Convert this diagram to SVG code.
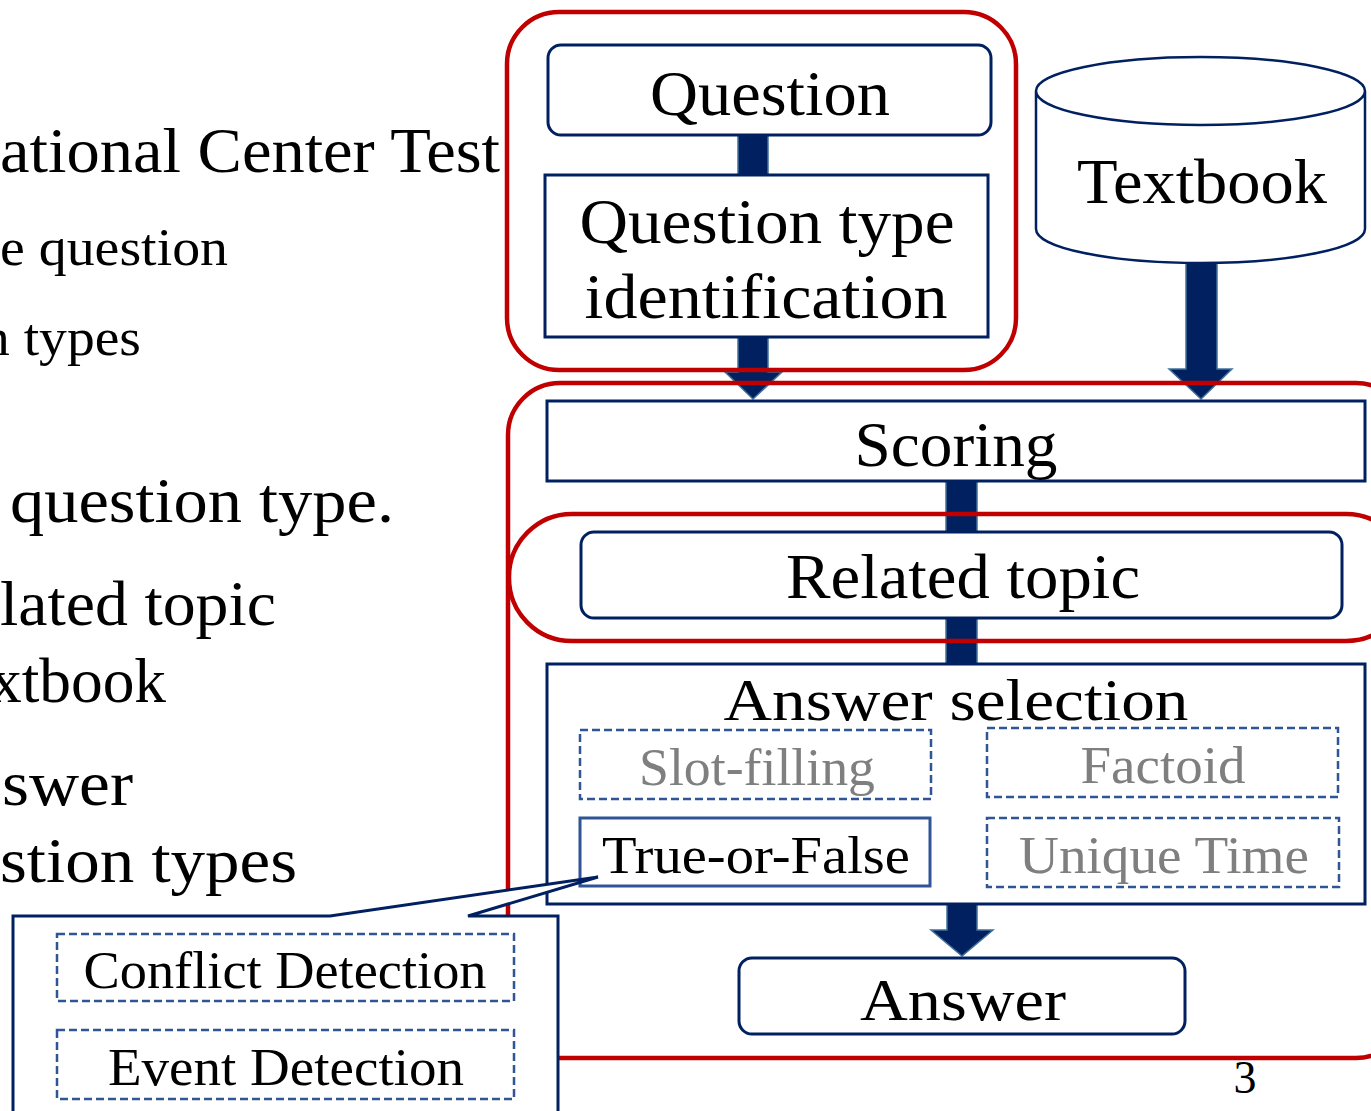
<svg xmlns="http://www.w3.org/2000/svg" width="1371" height="1111" viewBox="0 0 1371 1111">
<style>
text{font-family:"Liberation Serif","Times New Roman",serif;fill:#000}
.c{text-anchor:middle}
.gray{fill:#7F7F7F}
.box{fill:#fff;stroke:#002060;stroke-width:3}
.dash{fill:#fff;stroke:#2F5597;stroke-width:2.5;stroke-dasharray:8 4}
.red{fill:none;stroke:#C00000;stroke-width:4.5}
.arr{fill:#002060;stroke:#41719C;stroke-width:1.5}
</style>
<rect width="1371" height="1111" fill="#fff"/>

<g id="left-text">
<text x="0" y="172" font-size="64" textLength="500" lengthAdjust="spacingAndGlyphs">ational Center Test</text>
<text x="0" y="265" font-size="52" textLength="228" lengthAdjust="spacingAndGlyphs">e question</text>
<text x="-18" y="355" font-size="52" textLength="159" lengthAdjust="spacingAndGlyphs">n types</text>
<text x="10" y="522" font-size="64" textLength="384" lengthAdjust="spacingAndGlyphs">question type.</text>
<text x="0" y="625" font-size="64" textLength="276" lengthAdjust="spacingAndGlyphs">lated topic</text>
<text x="-10" y="702" font-size="64" textLength="176" lengthAdjust="spacingAndGlyphs">xtbook</text>
<text x="2" y="805" font-size="64" textLength="131" lengthAdjust="spacingAndGlyphs">swer</text>
<text x="0" y="882" font-size="64" textLength="297" lengthAdjust="spacingAndGlyphs">stion types</text>
</g>

<g id="connectors">
<rect class="arr" x="738" y="134" width="30" height="42"/>
<polygon class="arr" points="738,336 768,336 768,372 782,372 753,399 725,372 738,372"/>
<polygon class="arr" points="1186,262 1217,262 1217,369 1232,369 1201,399 1169,369 1186,369"/>
<rect class="arr" x="946" y="480" width="31" height="54"/>
<rect class="arr" x="946" y="616" width="31" height="50"/>
<polygon class="arr" points="947,902 977,902 977,930 993,930 962,956 931,930 947,930"/>
</g>

<g id="question">
<rect class="box" x="548" y="45" width="443" height="90" rx="13"/>
<text class="c" x="770" y="115" font-size="64" textLength="240" lengthAdjust="spacingAndGlyphs">Question</text>
</g>
<g id="qtype">
<rect class="box" x="545" y="175" width="443" height="162" stroke-width="3.5"/>
<text class="c" x="767" y="243" font-size="63" textLength="375" lengthAdjust="spacingAndGlyphs">Question type</text>
<text class="c" x="766" y="318" font-size="63" textLength="363" lengthAdjust="spacingAndGlyphs">identification</text>
</g>
<g id="textbook">
<path d="M1036,91 V229 A164.5,34 0 0 0 1365,229 V91 A164.5,34 0 0 0 1036,91 Z M1036,91 A164.5,34 0 0 0 1365,91" fill="#fff" stroke="#002060" stroke-width="2.5"/>
<text class="c" x="1202" y="203" font-size="64" textLength="250" lengthAdjust="spacingAndGlyphs">Textbook</text>
</g>
<g id="scoring">
<rect class="box" x="547" y="401" width="818" height="80" stroke-width="3.5"/>
<text class="c" x="956" y="466" font-size="63" textLength="203" lengthAdjust="spacingAndGlyphs">Scoring</text>
</g>
<g id="related">
<rect class="box" x="581" y="532" width="761" height="86" rx="13" stroke-width="2.5"/>
<text class="c" x="963" y="598" font-size="64" textLength="354" lengthAdjust="spacingAndGlyphs">Related topic</text>
</g>
<g id="answer-selection">
<rect class="box" x="547" y="664" width="818" height="240" stroke-width="3.5"/>
<text class="c" x="956" y="720" font-size="60" textLength="465" lengthAdjust="spacingAndGlyphs">Answer selection</text>
</g>
<g id="slot-filling">
<rect class="dash" x="580" y="730" width="351" height="69"/>
<text class="c gray" x="757" y="785" font-size="53" textLength="236" lengthAdjust="spacingAndGlyphs">Slot-filling</text>
</g>
<g id="factoid">
<rect class="dash" x="987" y="728" width="351" height="69"/>
<text class="c gray" x="1163" y="783" font-size="53" textLength="165" lengthAdjust="spacingAndGlyphs">Factoid</text>
</g>
<g id="true-false">
<rect x="580" y="818" width="350" height="68" fill="#fff" stroke="#2F5597" stroke-width="3"/>
<text class="c" x="756" y="873" font-size="53" textLength="308" lengthAdjust="spacingAndGlyphs">True-or-False</text>
</g>
<g id="unique-time">
<rect class="dash" x="987" y="818" width="352" height="69"/>
<text class="c gray" x="1164" y="873" font-size="53" textLength="290" lengthAdjust="spacingAndGlyphs">Unique Time</text>
</g>
<g id="answer">
<rect class="box" x="739" y="958" width="446" height="76" rx="13" stroke-width="2.5"/>
<text class="c" x="963" y="1020" font-size="60" textLength="206" lengthAdjust="spacingAndGlyphs">Answer</text>
</g>

<g id="groups">
<rect class="red" x="507" y="12" width="509" height="358" rx="52"/>
<rect class="red" x="508" y="383" width="900" height="675" rx="52"/>
<rect class="red" x="509" y="514" width="900" height="127" rx="63"/>
</g>

<text x="1245" y="1093" class="c" font-size="46">3</text>

<g id="callout">
<path d="M13,916 H330 L598,877 L468,916 H558 V1120 H13 Z" fill="#fff" stroke="#002060" stroke-width="3" stroke-linejoin="miter"/>
</g>
<g id="conflict">
<rect class="dash" x="57" y="934" width="457" height="67"/>
<text class="c" x="285" y="988" font-size="53" textLength="403" lengthAdjust="spacingAndGlyphs">Conflict Detection</text>
</g>
<g id="event">
<rect class="dash" x="57" y="1030" width="457" height="69"/>
<text class="c" x="286" y="1085" font-size="53" textLength="356" lengthAdjust="spacingAndGlyphs">Event Detection</text>
</g>
</svg>
